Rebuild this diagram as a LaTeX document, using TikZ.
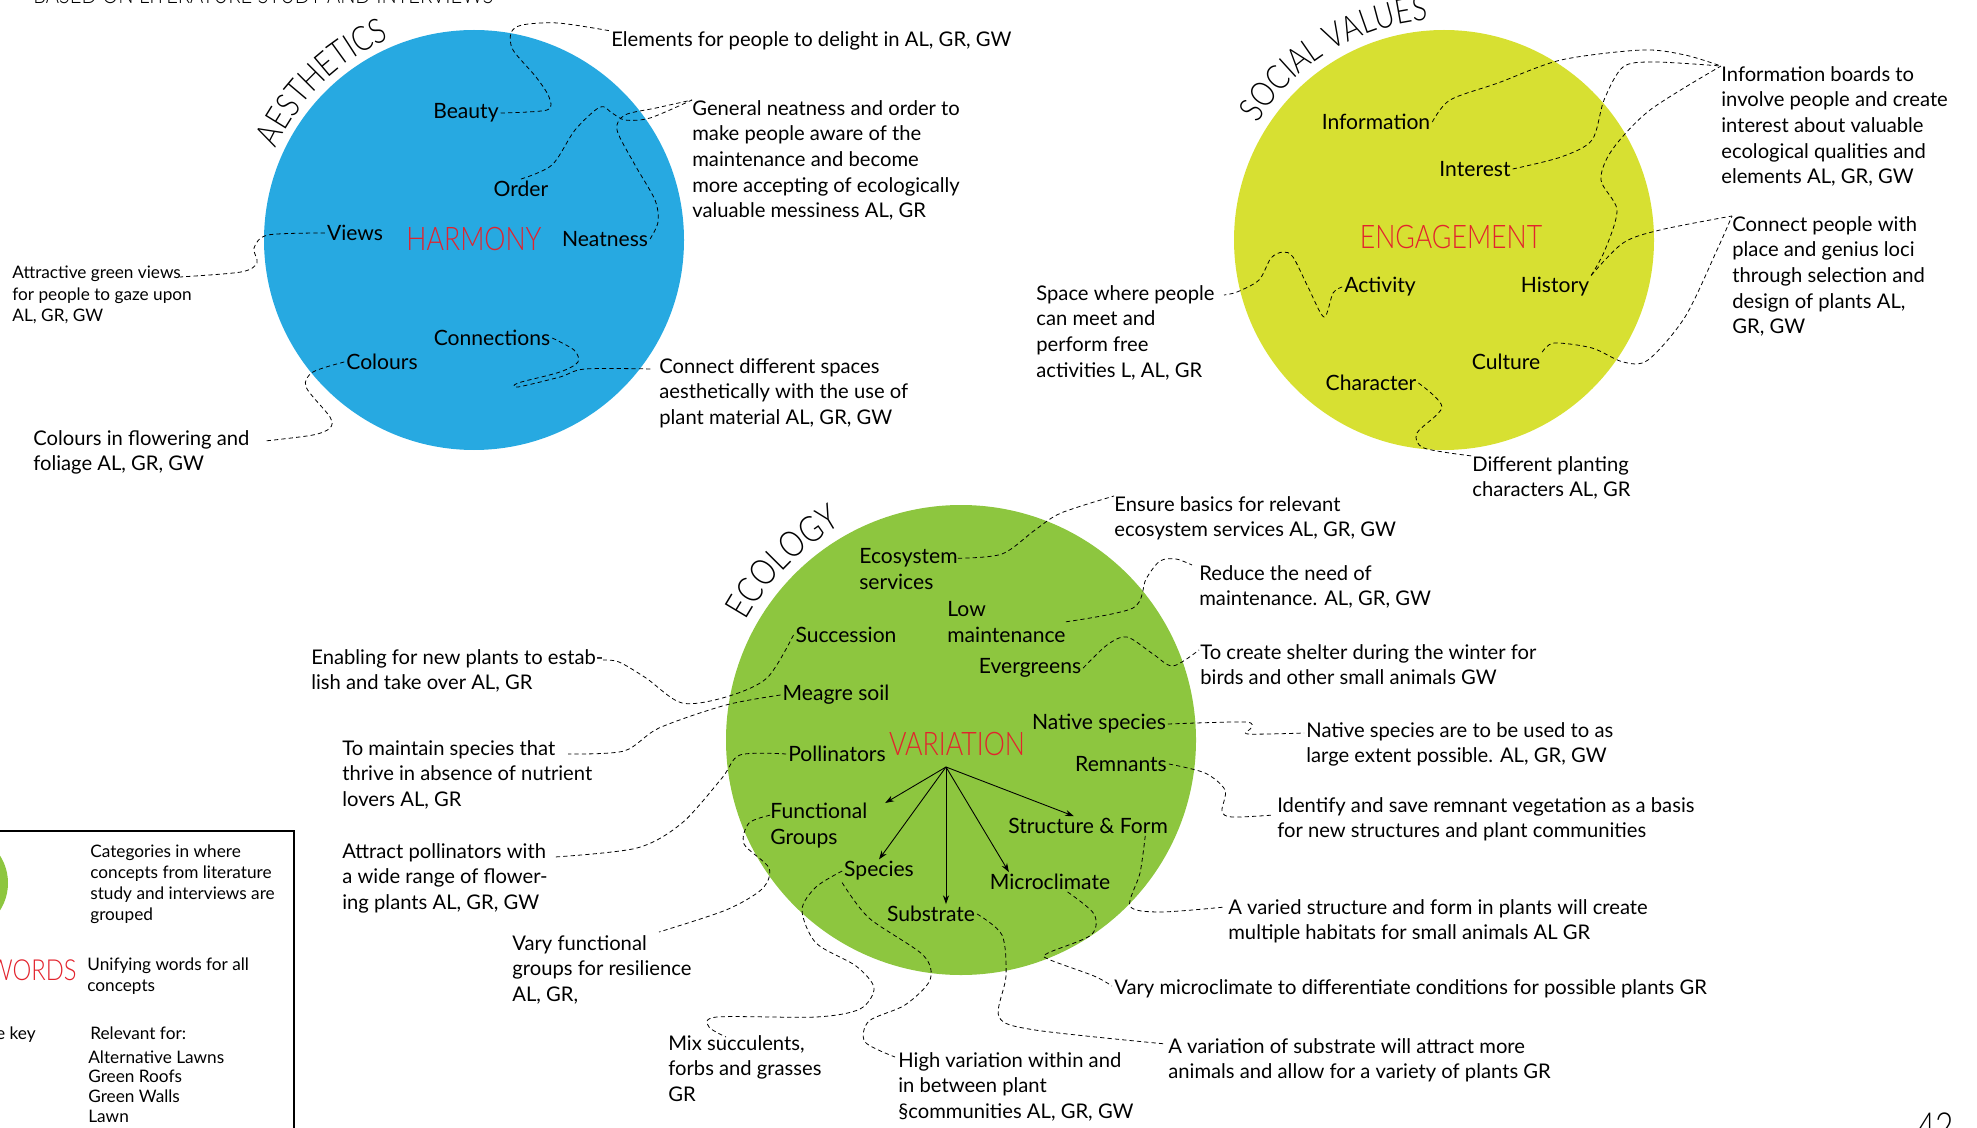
\documentclass[tikz,border=0pt]{standalone}
\usepackage{fontspec}
\setmainfont{Lato}
\newfontfamily\keyfont{Lato Light}[FakeStretch=0.82]
\usetikzlibrary{calc}
\usetikzlibrary{positioning}
\usetikzlibrary{decorations.text}
\usetikzlibrary{arrows.meta}
\definecolor{custom-blue}{RGB}{39, 169, 225}
\definecolor{custom-lime}{RGB}{215, 224, 50}
\definecolor{custom-green}{RGB}{141, 198, 63}
\definecolor{custom-red}{RGB}{226, 35, 45}

\tikzset{
  concept/.style={inner sep=1pt, font=\fontsize{12}{14.6}\selectfont},
  twoline/.style={anchor=north west, inner sep=0pt, align=left, font=\fontsize{12}{14.6}\selectfont},
  note/.style={anchor=north west, inner sep=0pt, align=left, font=\fontsize{11.5}{14.6}\selectfont},
  smallnote/.style={note, font=\fontsize{9.8}{12}\selectfont},
  keyword/.style={inner sep=0pt, text=custom-red, font=\keyfont\fontsize{18.5}{20}\selectfont},
  lead/.style={dash pattern=on 2.4pt off 1.8pt, line width=0.45pt},
  branch/.style={-{Stealth[length=5pt, width=3.5pt]}, line width=0.5pt},
}

\begin{document}
\begin{tikzpicture}[x=0.02cm, y=-0.02cm]
\useasboundingbox (0,0) rectangle (1977,1128);

\node[anchor=base west, inner sep=0pt, font=\keyfont\fontsize{14}{14}\selectfont] (title) at (33,4) {BASED ON LITERATURE STUDY AND INTERVIEWS};
\node[anchor=north west, inner sep=0pt, font=\keyfont\fontsize{22}{22}\selectfont] (page) at (1917,1112) {42};

% aesthetics
\coordinate (aesthetics) at (474,240);
\fill[custom-blue] (aesthetics) circle[radius=210];
\path[decorate, decoration={text along path, text align=center, text={|\keyfont\fontsize{19.5}{19.5}\selectfont|AESTHETICS}}]
  (aesthetics) ++(-174:218) arc[start angle=-174, end angle=-94, radius=218];
\node[keyword] (harmony) at (474,239) {HARMONY};
\node[concept] (beauty) at (466,113) {Beauty};
\node[concept] (order) at (521,189) {Order};
\node[concept] (views) at (355,233) {Views};
\node[concept] (neatness) at (605,239) {Neatness};
\node[concept] (connections) at (492,338) {Connections};
\node[concept] (colours) at (382,362) {Colours};
\node[note] (n-delight) at (611,31) {Elements for people to delight in AL, GR, GW};
\node[note] (n-neat) at (692,100) {General neatness and order to\\make people aware of the\\maintenance and become\\more accepting of ecologically\\valuable messiness AL, GR};
\node[smallnote] (n-views) at (12,266) {Attractive green views\\for people to gaze upon\\AL, GR, GW};
\node[note] (n-connect) at (659,358) {Connect different spaces\\aesthetically with the use of\\plant material AL, GR, GW};
\node[note] (n-colours) at (33,430) {Colours in flowering and\\foliage AL, GR, GW};

\draw[lead] plot[smooth] coordinates {(beauty.east) (547,110) (549,97) (536,77) (513,50) (511,33) (522,25) (558,23) (n-delight.north west)};
\draw[lead] plot[smooth] coordinates {(order.north) (552,165) (575,130) (600,107) (612,113) (625,120) (650,118) (n-neat.north west)};
\draw[lead] plot[smooth] coordinates {(neatness.east) (658,222) (655,200) (635,165) (617,130) (625,115) (656,108) (n-neat.north west)};
\draw[lead] plot[smooth] coordinates {(views.west) (268,235) (254,248) (257,263) (241,272) (180,277)};
\draw[lead] plot[smooth] coordinates {(connections.east) (574,350) (578,362) (560,372) (518,383) (518,387) (560,377) (585,369) (652,369)};
\draw[lead] plot[smooth] coordinates {(colours.west) (313,372) (306,387) (330,417) (330,428) (313,435) (265,441)};

% social values
\coordinate (social) at (1444,240);
\fill[custom-lime] (social) circle[radius=210];
\path[decorate, decoration={text along path, text align=center, text={|\keyfont\fontsize{19.5}{19.5}\selectfont|SOCIAL VALUES}}]
  (social) ++(-161:220) arc[start angle=-161, end angle=-81, radius=220];
\node[keyword] (engagement) at (1451,237) {ENGAGEMENT};
\node[concept] (information) at (1376,122) {Information};
\node[concept] (interest) at (1475,169) {Interest};
\node[concept] (activity) at (1380,287) {Activity};
\node[concept] (history) at (1555,287) {History};
\node[concept] (culture) at (1506,362) {Culture};
\node[concept] (character) at (1371,383) {Character};
\node[note] (n-boards) at (1721,66) {Information boards to\\involve people and create\\interest about valuable\\ecological qualities and\\elements AL, GR, GW};
\node[note] (n-place) at (1732,216) {Connect people with\\place and genius loci\\through selection and\\design of plants AL,\\GR, GW};
\node[note] (n-space) at (1036,285) {Space where people\\can meet and\\perform free\\activities L, AL, GR};
\node[note] (n-planting) at (1472,456) {Different planting\\characters AL, GR};

\draw[lead] plot[smooth] coordinates {(information.east) (1450,100) (1498,83) (1561,60) (1642,50) (1685,55) (n-boards.north west)};
\draw[lead] plot[smooth] coordinates {(interest.east) (1561,157) (1592,140) (1604,100) (1623,67) (1654,62) (n-boards.north west)};
\draw[lead] plot[smooth] coordinates {(history.north east) (1605,250) (1617,210) (1601,180) (1612,150) (1650,110) (n-boards.north west)};
\draw[lead] plot[smooth] coordinates {(history.north east) (1623,243) (1660,230) (n-place.north west)};
\draw[lead] plot[smooth] coordinates {(culture.north east) (1554,343) (1592,348) (1623,362) (1648,360) (1685,317) (1717,250) (n-place.north west)};
\draw[lead] plot[smooth] coordinates {(activity.west) (1333,293) (1324,317) (1308,287) (1293,257) (1283,252) (1271,258) (1259,280) (1237,292) (1224,295)};
\draw[lead] plot[smooth] coordinates {(character.east) (1442,407) (1417,433) (1424,448) (n-planting.north west)};

% ecology
\coordinate (ecology) at (961,740);
\fill[custom-green] (ecology) circle[radius=235];
\path[decorate, decoration={text along path, text align=center, text={|\keyfont\fontsize{20.5}{20.5}\selectfont|ECOLOGY}}]
  (ecology) ++(-175:246) arc[start angle=-175, end angle=-95, radius=246];
\node[keyword] (variation) at (957,744) {VARIATION};
\node[twoline] (ecosystem) at (859,548) {Ecosystem\\services};
\node[twoline] (lowmaint) at (947,601) {Low\\maintenance};
\node[twoline] (functional) at (770,803) {Functional\\Groups};
\node[concept] (succession) at (846,635) {Succession};
\node[concept] (evergreens) at (1030,668) {Evergreens};
\node[concept] (meagre) at (836,695) {Meagre soil};
\node[concept] (native) at (1099,724) {Native species};
\node[concept] (pollinators) at (837,754) {Pollinators};
\node[concept] (remnants) at (1121,764) {Remnants};
\node[concept] (structure) at (1088,826) {Structure \& Form};
\node[concept] (species) at (879,871) {Species};
\node[concept] (microclimate) at (1050,882) {Microclimate};
\node[concept] (substrate) at (931,914) {Substrate};
\coordinate (hub) at (946,767);

\draw[branch] (hub) -- ([xshift=10pt]functional.north east);
\draw[branch] (hub) -- (species.north);
\draw[branch] (hub) -- (substrate.north -| hub);
\draw[branch] (hub) -- ([xshift=12pt]microclimate.north west);
\draw[branch] (hub) -- ([xshift=-8pt]structure.north);

\node[note] (n-basics) at (1114,496) {Ensure basics for relevant\\ecosystem services AL, GR, GW};
\node[note] (n-reduce) at (1199,565) {Reduce the need of\\maintenance. AL, GR, GW};
\node[note] (n-shelter) at (1200,644) {To create shelter during the winter for\\birds and other small animals GW};
\node[note] (n-native) at (1306,722) {Native species are to be used to as\\large extent possible. AL, GR, GW};
\node[note] (n-remnant) at (1277,797) {Identify and save remnant vegetation as a basis\\for new structures and plant communities};
\node[note] (n-varied) at (1228,899) {A varied structure and form in plants will create\\multiple habitats for small animals AL GR};
\node[note] (n-micro) at (1114,979) {Vary microclimate to differentiate conditions for possible plants GR};
\node[note] (n-substrate) at (1168,1038) {A variation of substrate will attract more\\animals and allow for a variety of plants GR};
\node[note] (n-high) at (898,1052) {High variation within and\\in between plant\\§communities AL, GR, GW};
\node[note] (n-mix) at (668,1035) {Mix succulents,\\forbs and grasses\\GR};
\node[note] (n-functional) at (512,935) {Vary functional\\groups for resilience\\AL, GR,};
\node[note] (n-pollinators) at (342,843) {Attract pollinators with\\a wide range of flower-\\ing plants AL, GR, GW};
\node[note] (n-maintain) at (342,740) {To maintain species that\\thrive in absence of nutrient\\lovers AL, GR};
\node[note] (n-enabling) at (311,649) {Enabling for new plants to estab-\\lish and take over AL, GR};

\draw[lead] plot[smooth] coordinates {([yshift=6pt]ecosystem.east) (1002,554) (1035,530) (1061,513) (n-basics.north west)};
\draw[lead] plot[smooth] coordinates {(lowmaint.east) (1133,608) (1146,579) (1160,561) (1176,559) (1192,565)};
\draw[lead] plot[smooth] coordinates {(evergreens.east) (1107,645) (1127,637) (1153,654) (1173,666) (1199,650)};
\draw[lead] plot[smooth] coordinates {(native.east) (1245,722) (1251,728) (1248,734) (1304,733)};
\draw[lead] plot[smooth] coordinates {(remnants.east) (1205,773) (1225,790) (1222,811) (1232,817) (1274,815)};
\draw[lead] plot[smooth] coordinates {([xshift=-14pt]structure.south east) (1140,873) (1130,906) (1160,912) (1225,907)};
\draw[lead] plot[smooth] coordinates {([xshift=10pt]microclimate.south) (1094,914) (1091,935) (1048,953) (1048,959) (1094,976) (1112,986)};
\draw[lead] plot[smooth] coordinates {(substrate.east) (1002,935) (1006,976) (999,1017) (1035,1030) (1166,1044)};
\draw[lead] plot[smooth] coordinates {(species.west) (816,887) (802,910) (816,943) (856,966) (874,988) (860,1009) (816,1017) (717,1017) (709,1027) (726,1037)};
\draw[lead] plot[smooth] coordinates {(species.south west) (869,918) (923,955) (930,980) (905,1005) (869,1021) (865,1042) (895,1057)};
\draw[lead] plot[smooth] coordinates {([yshift=6pt]functional.west) (749,823) (744,844) (769,868) (762,889) (726,910) (659,932)};
\draw[lead] plot[smooth] coordinates {(pollinators.west) (740,755) (722,778) (682,823) (637,848) (555,857)};
\draw[lead] plot[smooth] coordinates {(meagre.west) (726,705) (659,728) (624,751) (568,754)};
\draw[lead] plot[smooth] coordinates {(succession.west) (767,678) (726,697) (682,703) (646,678) (619,662) (603,660)};

% key
\draw[line width=1pt] (-20,831) rectangle (294,1150);
\fill[custom-green] (-43,883) circle[radius=51];
\node[smallnote] (l-categories) at (90,844) {Categories in where\\concepts from literature\\study and interviews are\\grouped};
\node[keyword, anchor=east, font=\keyfont\fontsize{16.5}{16.5}\selectfont] (l-words) at (77,970) {WORDS};
\node[smallnote] (l-unifying) at (87,957) {Unifying words for all\\concepts};
\node[smallnote, anchor=north east] (l-key) at (36,1026) {e key};
\node[smallnote] (l-relevant) at (90,1026) {Relevant for:};
\node[smallnote, font=\fontsize{9.8}{11.2}\selectfont] (l-types) at (88,1050) {Alternative Lawns\\Green Roofs\\Green Walls\\Lawn};
\end{tikzpicture}
\end{document}
